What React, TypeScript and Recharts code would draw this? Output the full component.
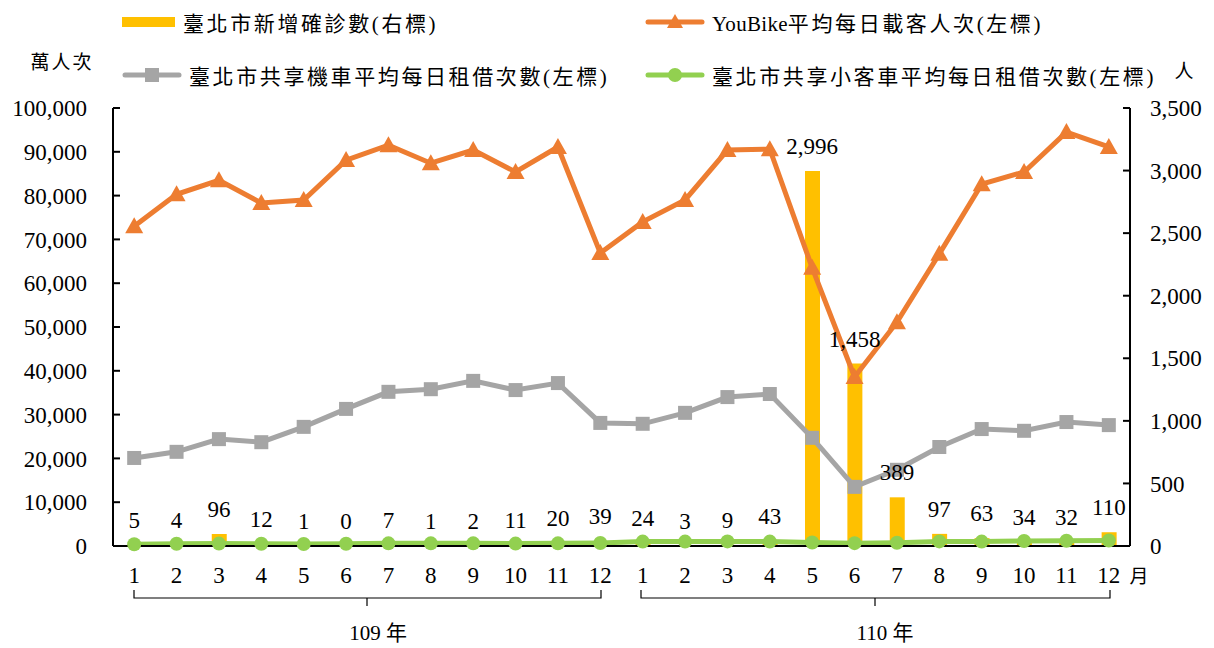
import React from "react"
import {
  ComposedChart,
  Bar,
  Line,
  XAxis,
  YAxis,
  LabelList,
} from "recharts"

const months = [
  "109/1", "109/2", "109/3", "109/4", "109/5", "109/6", "109/7", "109/8", "109/9", "109/10", "109/11", "109/12",
  "110/1", "110/2", "110/3", "110/4", "110/5", "110/6", "110/7", "110/8", "110/9", "110/10", "110/11", "110/12",
]
const newCases = [5, 4, 96, 12, 1, 0, 7, 1, 2, 11, 20, 39, 24, 3, 9, 43, 2996, 1458, 389, 97, 63, 34, 32, 110]
const youbike = [
  73000, 80300, 83500, 78300, 79000, 88100, 91500, 87400, 90400, 85400, 91100, 66900,
  74000, 79000, 90400, 90600, 63500, 38600, 51100, 66700, 82600, 85400, 94500, 91100,
]
const scooter = [
  20100, 21500, 24400, 23700, 27200, 31300, 35200, 35800, 37700, 35600, 37200, 28100,
  27900, 30400, 34000, 34700, 24700, 13500, 17400, 22600, 26700, 26300, 28300, 27600,
]
const carShare = [
  400, 500, 550, 500, 450, 500, 600, 600, 600, 550, 600, 700,
  1000, 1000, 1050, 1000, 800, 650, 750, 1050, 1000, 1150, 1200, 1250,
]
const leftTicks = [0, 10000, 20000, 30000, 40000, 50000, 60000, 70000, 80000, 90000, 100000]
const rightTicks = [0, 500, 1000, 1500, 2000, 2500, 3000, 3500]

const legendItems = [
  { name: "臺北市新增確診數(右標)", color: "#FFC000", kind: "bar" },
  { name: "YouBike平均每日載客人次(左標)", color: "#ED7D31", kind: "triangle" },
  { name: "臺北市共享機車平均每日租借次數(左標)", color: "#A5A5A5", kind: "square" },
  { name: "臺北市共享小客車平均每日租借次數(左標)", color: "#92D050", kind: "circle" },
]

const data = months.map((m, i) => ({
  month: m,
  cases: newCases[i],
  youbike: youbike[i],
  scooter: scooter[i],
  car: carShare[i],
}))

const FONT = "'Liberation Serif', 'Noto Sans CJK TC', serif"
const fmt = (v: number) => v.toLocaleString("en-US")

const Triangle = (props: any) => {
  const { cx, cy } = props
  if (cx == null || cy == null) return null
  return <path d={`M${cx},${cy - 9} L${cx + 9},${cy + 7} L${cx - 9},${cy + 7} Z`} fill="#ED7D31" />
}
const Square = (props: any) => {
  const { cx, cy } = props
  if (cx == null || cy == null) return null
  return <rect x={cx - 7} y={cy - 7} width={14} height={14} fill="#A5A5A5" />
}

function LegendIcon({ kind, color }: { kind: string; color: string }) {
  if (kind === "bar") {
    return (
      <svg width={54} height={12}>
        <rect x={0} y={1} width={53} height={10} fill={color} />
      </svg>
    )
  }
  return (
    <svg width={60} height={20}>
      <line x1={3} y1={10} x2={57} y2={10} stroke={color} strokeWidth={5} strokeLinecap="round" />
      {kind === "triangle" && <path d="M30,2 L38,16 L22,16 Z" fill={color} />}
      {kind === "square" && <rect x={23} y={3} width={14} height={14} fill={color} />}
      {kind === "circle" && <circle cx={30} cy={10} r={7} fill={color} />}
    </svg>
  )
}

// ascii runs keep normal spacing, CJK gets the wide spacing of the original
function spaced(text: string) {
  return text.split(/([A-Za-z]+)/).filter(Boolean).map((part, i) => (
    <span key={i} style={{ letterSpacing: /[A-Za-z]/.test(part) ? 0.3 : 2.6 }}>{part}</span>
  ))
}

function ChartLegend() {
  const pos = [
    { left: 122, top: 7 },
    { left: 645, top: 7 },
    { left: 122, top: 60 },
    { left: 645, top: 60 },
  ]
  return (
    <div style={{ position: "absolute", left: 0, top: 0, width: 1214, height: 100 }}>
      {legendItems.map((it, i) => (
        <div
          key={it.name}
          style={{
            position: "absolute",
            left: pos[i].left,
            top: pos[i].top,
            display: "flex",
            alignItems: "center",
            gap: 7,
            fontFamily: FONT,
            fontSize: 21,
            color: "#000",
            whiteSpace: "nowrap",
          }}
        >
          <LegendIcon kind={it.kind} color={it.color} />
          <span>{spaced(it.name)}</span>
        </div>
      ))}
    </div>
  )
}

export default function App() {
  const tickStyle = { fill: "#000", fontSize: 23, fontFamily: FONT }
  return (
    <div style={{ position: "absolute", left: 0, top: 0, width: 1214, height: 648, background: "#fff", overflow: "hidden" }}>
      <ComposedChart
        width={1214}
        height={648}
        data={data}
        margin={{ top: 108, right: 0, bottom: 62, left: 0 }}
        barSize={15}
      >
        <XAxis
          dataKey="month"
          tickFormatter={(v: string) => v.split("/")[1]}
          tickLine={false}
          tickSize={0}
          tickMargin={21}
          axisLine={{ stroke: "#000", strokeWidth: 2 }}
          tick={tickStyle}
          interval={0}
          height={40}
        />
        <YAxis
          yAxisId="left"
          orientation="left"
          domain={[0, 100000]}
          ticks={leftTicks}
          tickFormatter={fmt}
          width={113}
          tickSize={-7}
          tickMargin={33}
          axisLine={{ stroke: "#000", strokeWidth: 2 }}
          tickLine={{ stroke: "#000", strokeWidth: 2 }}
          tick={tickStyle}
          interval={0}
        />
        <YAxis
          yAxisId="right"
          orientation="right"
          domain={[0, 3500]}
          ticks={rightTicks}
          tickFormatter={fmt}
          width={84}
          tickSize={-7}
          tickMargin={27}
          axisLine={{ stroke: "#000", strokeWidth: 2 }}
          tickLine={{ stroke: "#000", strokeWidth: 2 }}
          tick={tickStyle}
          interval={0}
        />
        <Bar yAxisId="right" dataKey="cases" fill="#FFC000" isAnimationActive={false} />
        <Line
          yAxisId="left"
          dataKey="scooter"
          stroke="#A5A5A5"
          strokeWidth={5}
          dot={<Square />}
          isAnimationActive={false}
        />
        <Line
          yAxisId="left"
          dataKey="youbike"
          stroke="#ED7D31"
          strokeWidth={5}
          dot={<Triangle />}
          isAnimationActive={false}
        />
        <Line
          yAxisId="left"
          dataKey="car"
          stroke="#92D050"
          strokeWidth={5}
          dot={{ r: 7, fill: "#92D050", stroke: "none" }}
          isAnimationActive={false}
        />
        {/* invisible carrier for the case-count labels so that 0 gets a label too */}
        <Line
          yAxisId="right"
          dataKey="cases"
          stroke="none"
          dot={false}
          activeDot={false}
          legendType="none"
          isAnimationActive={false}
        >
          <LabelList
            dataKey="cases"
            position="top"
            offset={17}
            formatter={(v: any) => fmt(Number(v))}
            style={{ fill: "#000", fontSize: 23, fontFamily: FONT }}
          />
        </Line>
      </ComposedChart>
      <ChartLegend />
      <svg
        width={1214}
        height={648}
        style={{ position: "absolute", left: 0, top: 0, pointerEvents: "none" }}
        fontFamily={FONT}
      >
        <text x={62} y={65} fontSize={19} letterSpacing={2} textAnchor="middle" dominantBaseline="middle">萬人次</text>
        <text x={1184} y={74} fontSize={19} textAnchor="middle" dominantBaseline="middle">人</text>
        <text x={1139} y={579} fontSize={19} textAnchor="middle" dominantBaseline="middle">月</text>
        <path d="M134,590 L134,598 L601,598 L601,590 M367,598 L367,606" stroke="#000" strokeWidth={1.2} fill="none" />
        <path d="M641,590 L641,598 L1110,598 L1110,590 M875,598 L875,606" stroke="#000" strokeWidth={1.2} fill="none" />
        <text x={378} y={635} fontSize={21} textAnchor="middle" dominantBaseline="middle">109 年</text>
        <text x={885} y={635} fontSize={21} textAnchor="middle" dominantBaseline="middle">110 年</text>
      </svg>
    </div>
  )
}
